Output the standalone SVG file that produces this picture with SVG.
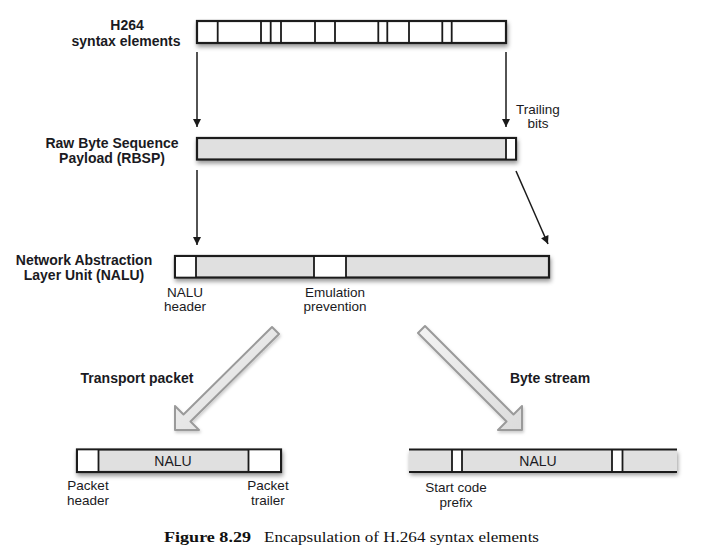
<svg xmlns="http://www.w3.org/2000/svg" width="708" height="555" viewBox="0 0 708 555">
<defs>
<style>
.lbl{font-family:"Liberation Sans",Arial,sans-serif;font-weight:bold;font-size:14px;fill:#1a1a22;text-anchor:middle}
.txt{font-family:"Liberation Sans",Arial,sans-serif;font-size:13.5px;fill:#1a1a22;text-anchor:middle}
.bar{stroke:#1a1a1a;stroke-width:2.2}
.div{stroke:#1a1a1a;stroke-width:1.8;fill:none}
.gray{fill:#e0e0e0}
.white{fill:#ffffff}
.conn{stroke:#1a1a1a;stroke-width:1.5;fill:none}
.big{fill:url(#bigGrad);stroke:#9a9a9a;stroke-width:2;stroke-linejoin:round}
.cap{font-family:"Liberation Serif","Times New Roman",serif;font-size:15px;fill:#111}
</style>
<filter id="shadow" x="-5%" y="-30%" width="110%" height="190%">
<feDropShadow dx="1" dy="3" stdDeviation="2" flood-color="#000" flood-opacity="0.4"/>
</filter>
<filter id="shadow2" x="-20%" y="-20%" width="140%" height="140%">
<feDropShadow dx="1" dy="2" stdDeviation="1.5" flood-color="#000" flood-opacity="0.2"/>
</filter>
<linearGradient id="bigGrad" x1="0" y1="0" x2="1" y2="1">
<stop offset="0" stop-color="#f2f2f2"/>
<stop offset="1" stop-color="#dcdcdc"/>
</linearGradient>
<marker id="ah" viewBox="0 0 10 10" refX="10" refY="5" markerWidth="10" markerHeight="8" markerUnits="userSpaceOnUse" orient="auto">
<path d="M0,0 L10,5 L0,10 Z" fill="#1a1a1a"/>
</marker>
</defs>

<g id="labels">
<text class="lbl" x="127" y="30">H264</text>
<text class="lbl" x="126" y="46">syntax elements</text>
<text class="lbl" x="112" y="148">Raw Byte Sequence</text>
<text class="lbl" x="112" y="163">Payload (RBSP)</text>
<text class="lbl" x="84" y="265">Network Abstraction</text>
<text class="lbl" x="84" y="280">Layer Unit (NALU)</text>
<text class="lbl" x="137" y="383">Transport packet</text>
<text class="lbl" x="550" y="383">Byte stream</text>
</g>

<g id="syntax-elements">
<rect class="bar white" x="197" y="21" width="309" height="22" filter="url(#shadow)"/>
<path class="div" d="M217.7,21V43M261,21V43M270.7,21V43M281,21V43M315,21V43M335,21V43M378.3,21V43M387.3,21V43M409,21V43M442.3,21V43M451.7,21V43"/>
</g>

<g id="rbsp">
<rect class="bar gray" x="197" y="138" width="319" height="21.5" filter="url(#shadow)"/>
<rect class="white" x="506" y="139" width="9" height="19.5"/>
<path class="div" d="M506,138V159.5"/>
<text class="txt" x="538" y="114">Trailing</text>
<text class="txt" x="538" y="128">bits</text>
</g>

<g id="nalu">
<rect class="bar gray" x="175" y="256" width="374" height="21.5" filter="url(#shadow)"/>
<rect class="white" x="176" y="257" width="20" height="19.5"/>
<rect class="white" x="314" y="257" width="32" height="19.5"/>
<path class="div" d="M196,256V277.5M314,256V277.5M346,256V277.5"/>
<text class="txt" x="185" y="297">NALU</text>
<text class="txt" x="185" y="311">header</text>
<text class="txt" x="335" y="297">Emulation</text>
<text class="txt" x="335" y="311">prevention</text>
</g>

<g id="transport-packet">
<rect class="bar gray" x="77" y="449.5" width="204" height="22.5" filter="url(#shadow)"/>
<rect class="white" x="78" y="450.5" width="20.5" height="20.5"/>
<rect class="white" x="248.5" y="450.5" width="31.5" height="20.5"/>
<path class="div" d="M98.5,449.5V472M248.5,449.5V472"/>
<text class="txt" x="173" y="466" style="font-size:14px">NALU</text>
<text class="txt" x="88" y="490">Packet</text>
<text class="txt" x="88" y="504.5">header</text>
<text class="txt" x="268" y="490">Packet</text>
<text class="txt" x="268" y="504.5">trailer</text>
</g>

<g id="byte-stream">
<rect class="gray" x="409" y="449.5" width="268" height="22.5" filter="url(#shadow)"/>
<rect class="white" x="452" y="450.5" width="10" height="20.5"/>
<rect class="white" x="612" y="450.5" width="10.5" height="20.5"/>
<path class="bar" fill="none" d="M409,449.5H677M409,472H677"/>
<path class="div" d="M452,449.5V472M462,449.5V472M612,449.5V472M622.5,449.5V472"/>
<text class="txt" x="538" y="466" style="font-size:14px">NALU</text>
<text class="txt" x="456" y="492">Start code</text>
<text class="txt" x="456" y="506.5">prefix</text>
</g>

<g id="connectors">
<line class="conn" x1="197" y1="52" x2="197" y2="127" marker-end="url(#ah)"/>
<line class="conn" x1="506" y1="52" x2="506" y2="127" marker-end="url(#ah)"/>
<line class="conn" x1="197" y1="170" x2="197" y2="245" marker-end="url(#ah)"/>
<line class="conn" x1="516" y1="171" x2="548" y2="244" marker-end="url(#ah)"/>
<polygon class="big" filter="url(#shadow2)" points="272,327 183.5,414.5 175,406 175,430 199,430 190.5,421.5 279,334"/>
<polygon class="big" filter="url(#shadow2)" points="418,333 506.5,421.5 498,430 522,430 522,406 513.5,414.5 425,326"/>
</g>

<g id="caption">
<text class="cap" x="164" y="542" font-weight="bold" textLength="87" lengthAdjust="spacingAndGlyphs">Figure 8.29</text>
<text class="cap" x="264" y="542" textLength="275" lengthAdjust="spacingAndGlyphs">Encapsulation of H.264 syntax elements</text>
</g>
</svg>
